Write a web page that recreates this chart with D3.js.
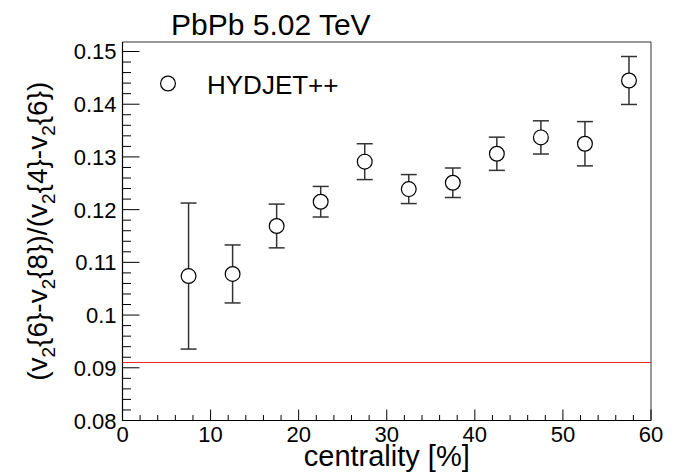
<!DOCTYPE html>
<html><head><meta charset="utf-8">
<script src="https://cdn.jsdelivr.net/npm/d3@7"></script>
<style>body{margin:0;background:#fff}svg{display:block}text{font-family:"Liberation Sans",Arial,Helvetica,sans-serif;fill:#000}</style>
</head><body>
<script>
const centrality = [7.5, 12.5, 17.5, 22.5, 27.5, 32.5, 37.5, 42.5, 47.5, 52.5, 57.5];
const ratio = [0.1074, 0.1078, 0.1169, 0.1215, 0.1291, 0.1239, 0.1251, 0.1306, 0.1337, 0.1325, 0.1445];
const ratioErr = [0.01385, 0.0055, 0.00415, 0.0029, 0.0034, 0.00275, 0.0028, 0.00315, 0.00315, 0.0042, 0.00455];
const refLine = 0.091;
const xTicks = [0, 10, 20, 30, 40, 50, 60];
const yTicks = [0.08, 0.09, 0.1, 0.11, 0.12, 0.13, 0.14, 0.15];
const yTickLabels = ["0.08", "0.09", "0.1", "0.11", "0.12", "0.13", "0.14", "0.15"];
const legendLabel = "HYDJET++";
const titleText = "PbPb 5.02 TeV";

const W = 689, H = 472;
const L = 122.5, R = 651, T = 42, B = 420.5;
const svg = d3.select("body").append("svg").attr("width", W).attr("height", H);
const x = d3.scaleLinear().domain([0, 60]).range([L, R]);
const y = d3.scaleLinear().domain([0.08, 0.1518]).range([B, T]);

// frame
svg.append("path").attr("d", `M${L},${T}H${R}V${B}`).attr("fill", "none")
  .attr("stroke", "#333").attr("stroke-width", 1);
svg.append("path").attr("d", `M${L},${T}V${B}H${R}`).attr("fill", "none")
  .attr("stroke", "#000").attr("stroke-width", 1.2);

// ticks
const xMinor = d3.range(0, 60.001, 2);
svg.append("g").selectAll("line").data(xMinor).join("line")
  .attr("x1", d => x(d)).attr("x2", d => x(d))
  .attr("y1", B).attr("y2", d => B - (d % 10 === 0 ? 11 : 5.5))
  .attr("stroke", "#000").attr("stroke-width", 1);
const yMinor = d3.range(0, 36).map(i => 0.08 + i * 0.002);
svg.append("g").selectAll("line").data(yMinor).join("line")
  .attr("y1", d => y(d)).attr("y2", d => y(d))
  .attr("x1", L).attr("x2", (d, i) => L + (i % 5 === 0 ? 17 : 8.5))
  .attr("stroke", "#000").attr("stroke-width", 1);

// tick labels
svg.append("g").selectAll("text").data(xTicks).join("text")
  .attr("x", d => x(d)).attr("y", B + 21.5).attr("text-anchor", "middle")
  .attr("font-size", 22).text(d => d);
svg.append("g").selectAll("text").data(yTicks).join("text")
  .attr("x", L - 6).attr("y", d => y(d) + 8).attr("text-anchor", "end")
  .attr("font-size", 22).text((d, i) => yTickLabels[i]);

// reference line
svg.append("line").attr("x1", x(0)).attr("x2", x(60)).attr("y1", y(refLine)).attr("y2", y(refLine))
  .attr("stroke", "#e8262a").attr("stroke-width", 1);

// error bars
const g = svg.append("g");
centrality.forEach((c, i) => {
  const cx = x(c), y0 = y(ratio[i] - ratioErr[i]), y1 = y(ratio[i] + ratioErr[i]);
  g.append("line").attr("x1", cx).attr("x2", cx).attr("y1", y0).attr("y2", y1)
    .attr("stroke", "#333").attr("stroke-width", 1.5);
  [y0, y1].forEach(yy => g.append("line").attr("x1", cx - 8).attr("x2", cx + 8)
    .attr("y1", yy).attr("y2", yy).attr("stroke", "#333").attr("stroke-width", 1.5));
});
g.selectAll("circle").data(centrality).join("circle")
  .attr("cx", d => x(d)).attr("cy", (d, i) => y(ratio[i])).attr("r", 7.4)
  .attr("fill", "#fff").attr("stroke", "#000").attr("stroke-width", 1.2);

// legend
svg.append("circle").attr("cx", 168).attr("cy", 83.5).attr("r", 7.4)
  .attr("fill", "#fff").attr("stroke", "#000").attr("stroke-width", 1.2);
svg.append("text").attr("x", 207).attr("y", 93.5).attr("font-size", 26).text(legendLabel);

// title
svg.append("text").attr("x", 171).attr("y", 35).attr("font-size", 30).text(titleText);

// x title
svg.append("text").attr("x", (L + R) / 2).attr("y", 466).attr("text-anchor", "middle")
  .attr("font-size", 29).text("centrality [%]");

// y title
const yt = svg.append("text").attr("transform", `translate(47,${(T + B) / 2}) rotate(-90)`)
  .attr("text-anchor", "middle").attr("font-size", 28);
const parts = [["(v", false], ["2", true], ["{6}-v", false], ["2", true], ["{8})/(v", false], ["2", true], ["{4}-v", false], ["2", true], ["{6})", false]];
parts.forEach(([t, sub], k) => {
  const ts = yt.append("tspan").text(t);
  if (sub) ts.attr("font-size", 19).attr("dy", 8);
  else if (k > 0) ts.attr("dy", -8);
});
</script>
</body></html>
